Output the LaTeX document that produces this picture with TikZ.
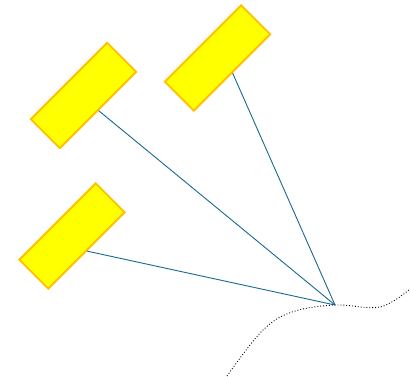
\documentclass[tikz,border=0pt]{standalone}
\usepackage{tikz}
\definecolor{panelfill}{HTML}{FFFF00}
\definecolor{paneledge}{HTML}{FFC000}
\definecolor{linkblue}{HTML}{17698F}

\begin{document}
\begin{tikzpicture}[
    x=1pt, y=-1pt,
    panel/.style={draw=paneledge, fill=panelfill, line width=1.8pt, rotate=45, minimum width=108pt, minimum height=41pt, inner sep=0pt},
    link/.style={draw=linkblue, line width=0.9pt},
    ground/.style={dotted, line width=0.9pt, black}
]
\useasboundingbox (0,0) rectangle (410,377);

\coordinate (hub) at (335,305);

\node[panel] (p1) at (217.5,58) {};
\node[panel] (p2) at (83.5,95.5) {};
\node[panel] (p3) at (72,236) {};

\foreach \p in {p1, p2, p3}
  \draw[link] (hub) -- (\p.south);

% ground line
\draw[ground] plot[smooth, tension=0.6] coordinates {(227,376) (262,331) (292,312) (335,305) (380,307) (410,289)};
\end{tikzpicture}
\end{document}
